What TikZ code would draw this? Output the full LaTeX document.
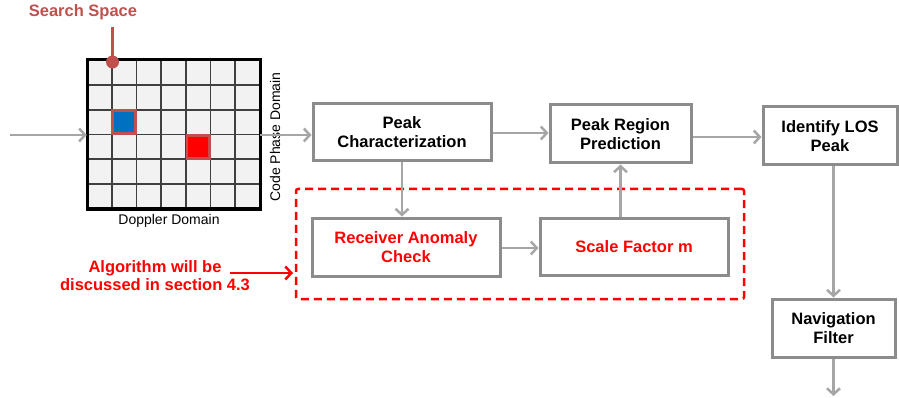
\documentclass[tikz,border=0pt]{standalone}
\usepackage{fontspec}
\setmainfont{Liberation Sans}
\usetikzlibrary{arrows.meta}
\definecolor{boxgray}{HTML}{8C8C8C}
\definecolor{arrgray}{HTML}{A6A6A6}
\definecolor{cellbg}{HTML}{F2F2F2}
\definecolor{gridline}{HTML}{404040}
\definecolor{callout}{HTML}{C0504D}
\definecolor{myred}{HTML}{FF0000}
\definecolor{myblue}{HTML}{0070C0}
\begin{document}
\begin{tikzpicture}[x=1pt,y=-1pt,
  blk/.style={draw=boxgray,line width=3pt,fill=white,align=center,inner sep=0pt,
    font=\fontsize{16.5}{19}\selectfont\bfseries},
  redblk/.style={blk,text=myred},
  flow/.style={draw=arrgray,line width=2.5pt,-{Straight Barb[length=6pt,width=13pt]}},
  redflow/.style={draw=myred,line width=2.5pt,-{Straight Barb[length=6pt,width=13pt]}},
  lbl/.style={font=\fontsize{14}{16}\selectfont,inner sep=0pt}]
\useasboundingbox (0,0) rectangle (899,398);

% search space grid
\node[minimum width=173pt,minimum height=149pt,inner sep=0pt] (grid) at (173.5,134.5) {};
\fill[cellbg] (87,60) rectangle (260,209);
\foreach \i in {1,...,6} \draw[gridline,line width=1.7pt] ({87+\i*173/7},60) -- ({87+\i*173/7},209);
\foreach \j in {1,...,5} \draw[gridline,line width=1.7pt] (87,{60+\j*149/6}) -- (260,{60+\j*149/6});
\draw[callout,line width=2.5pt,fill=myblue] ({87+173/7+1},{60+2*149/6+1}) rectangle ({87+2*173/7-1},{60+3*149/6-1});
\draw[callout,line width=2.5pt,fill=myred] ({87+4*173/7+1},{60+3*149/6+1}) rectangle ({87+5*173/7-1},{60+4*149/6-1});
\draw[black,line width=3pt] (87,60) rectangle (260,209);

\node[font=\fontsize{16.5}{19}\selectfont\bfseries,text=callout,inner sep=0pt] (ss) at (83,12) {Search Space};
\coordinate (ssdot) at (112.5,62);
\coordinate (sstop) at (112.5,27);
\draw[callout,line width=2.5pt] (sstop) -- (ssdot);
\fill[callout] (ssdot) circle (6.5pt);

\node[lbl] (dop) at (169,221) {Doppler Domain};
\node[lbl,rotate=90] (cpd) at (275,137) {Code Phase Domain};

% blocks
\node[blk,minimum width=178pt,minimum height=57pt] (pc) at (402,132.5) {Peak\\Characterization};
\node[blk,minimum width=141pt,minimum height=58pt] (pr) at (620.5,134) {Peak Region\\Prediction};
\node[blk,minimum width=134pt,minimum height=58pt] (id) at (830,136) {Identify LOS\\Peak};
\node[blk,minimum width=123pt,minimum height=58pt] (nav) at (833.5,328) {Navigation\\Filter};
\node[redblk,minimum width=188pt,minimum height=58pt] (rac) at (406,247) {Receiver Anomaly\\Check};
\node[redblk,minimum width=188pt,minimum height=57pt] (sf) at (634,246.5) {Scale Factor m};

\node[draw=myred,line width=2.5pt,dash pattern=on 8pt off 5pt,rounded corners=2pt,
  minimum width=448pt,minimum height=110pt,inner sep=0pt] (dash) at (520,244) {};

\node[font=\fontsize{16.5}{18}\selectfont\bfseries,text=myred,align=center,inner sep=0pt] (alg) at (155,276)
  {Algorithm will be\\discussed in section 4.3};

% connectors
\coordinate (in) at (10,135);
\coordinate (out) at (833.5,396);
\coordinate (algstart) at (230,273);
\coordinate (algend) at (293,273);
\draw[flow] (in) -- (in -| grid.west);
\draw[flow] (grid.east |- in) -- (in -| pc.west);
\draw[flow] (pc.east |- 0,133) -- (pr.west |- 0,133);
\draw[flow] (pr.east |- 0,137) -- (id.west |- 0,137);
\draw[flow] (nav.north |- id.south) -- (nav.north);
\draw[flow] (nav.south) -- (out);
\draw[flow] (pc.south) -- (pc.south |- rac.north);
\draw[flow] (rac.east |- 0,248) -- (sf.west |- 0,248);
\draw[flow] (pr.south |- sf.north) -- (pr.south);
\draw[redflow] (algstart) -- (algend);
\end{tikzpicture}
\end{document}
